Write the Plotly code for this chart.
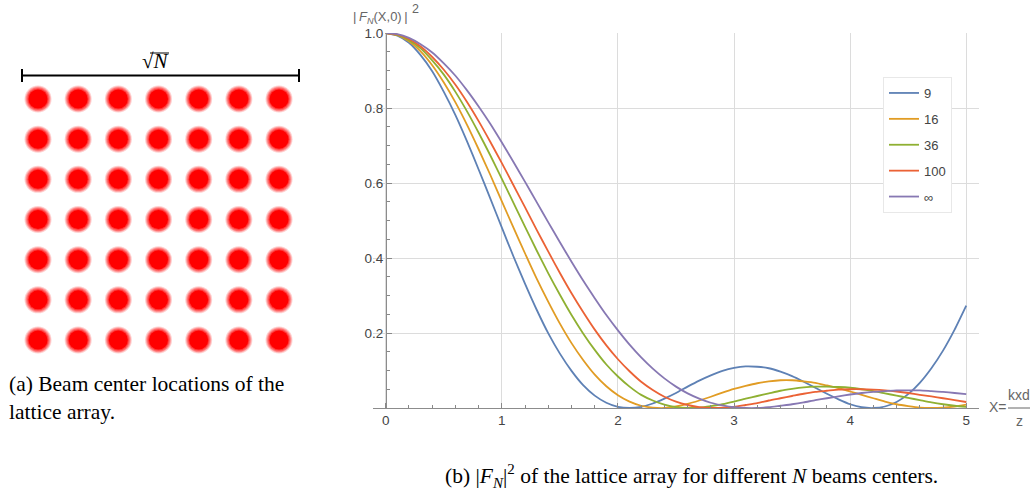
import plotly.graph_objects as go

# ---------------- data ----------------
x_vals = [round(i * 0.1, 1) for i in range(51)]

n9 = [1.000, 0.993, 0.974, 0.941, 0.898, 0.843, 0.781, 0.711, 0.636, 0.559,
      0.481, 0.404, 0.331, 0.262, 0.199, 0.145, 0.099, 0.061, 0.033, 0.014,
      0.003, 0.000, 0.003, 0.012, 0.025, 0.040, 0.057, 0.073, 0.087, 0.099,
      0.107, 0.111, 0.110, 0.106, 0.097, 0.085, 0.070, 0.054, 0.038, 0.023,
      0.010, 0.002, 0.000, 0.004, 0.016, 0.037, 0.067, 0.106, 0.153, 0.209,
      0.273]
n16 = [1.000, 0.994, 0.978, 0.951, 0.914, 0.868, 0.815, 0.755, 0.690, 0.622,
       0.551, 0.481, 0.412, 0.345, 0.283, 0.225, 0.173, 0.128, 0.089, 0.058,
       0.034, 0.017, 0.006, 0.001, 0.000, 0.004, 0.011, 0.020, 0.030, 0.041,
       0.051, 0.059, 0.066, 0.071, 0.074, 0.074, 0.071, 0.067, 0.060, 0.053,
       0.044, 0.035, 0.026, 0.017, 0.010, 0.005, 0.001, 0.000, 0.001, 0.004,
       0.009]
n36 = [1.000, 0.995, 0.981, 0.959, 0.927, 0.889, 0.843, 0.791, 0.734, 0.674,
       0.611, 0.547, 0.483, 0.420, 0.359, 0.302, 0.248, 0.199, 0.155, 0.116,
       0.084, 0.057, 0.035, 0.020, 0.009, 0.002, 0.000, 0.001, 0.005, 0.010,
       0.017, 0.025, 0.032, 0.039, 0.046, 0.051, 0.055, 0.057, 0.057, 0.056,
       0.054, 0.050, 0.045, 0.039, 0.033, 0.027, 0.021, 0.015, 0.010, 0.006,
       0.003]
n100 = [1.000, 0.996, 0.984, 0.964, 0.936, 0.902, 0.862, 0.816, 0.765, 0.710,
        0.653, 0.594, 0.535, 0.475, 0.417, 0.360, 0.306, 0.256, 0.209, 0.167,
        0.130, 0.098, 0.070, 0.048, 0.030, 0.017, 0.008, 0.002, 0.000, 0.001,
        0.003, 0.008, 0.013, 0.020, 0.026, 0.032, 0.038, 0.043, 0.046, 0.049,
        0.050, 0.050, 0.049, 0.047, 0.044, 0.040, 0.035, 0.031, 0.026, 0.021,
        0.016]
ninf = [1.000, 0.997, 0.987, 0.970, 0.948, 0.919, 0.886, 0.847, 0.804, 0.758,
        0.708, 0.656, 0.603, 0.549, 0.495, 0.442, 0.390, 0.340, 0.293, 0.248,
        0.207, 0.169, 0.135, 0.105, 0.079, 0.057, 0.039, 0.025, 0.014, 0.007,
        0.002, 0.000, 0.000, 0.002, 0.006, 0.010, 0.015, 0.021, 0.026, 0.031,
        0.036, 0.040, 0.043, 0.045, 0.047, 0.047, 0.047, 0.045, 0.043, 0.040,
        0.037]

series_names = ["9", "16", "36", "100", "\u221e"]
series_values = [n9, n16, n36, n100, ninf]
series_colors = ["#5E81B5", "#E19C24", "#8FB032", "#EB6235", "#8778B3"]

x_ticks = [0, 1, 2, 3, 4, 5]
x_ticklabels = ["0", "1", "2", "3", "4", "5"]
y_ticks = [0.2, 0.4, 0.6, 0.8, 1.0]
y_ticklabels = ["0.2", "0.4", "0.6", "0.8", "1.0"]

# lattice (7 x 7 beam centres)
lattice_idx = list(range(7))

# ---------------- figure ----------------
W, H = 1034, 495
fig = go.Figure()

SANS = "Liberation Sans, Arial, sans-serif"
SERIF = "Liberation Serif, Times New Roman, serif"

for name, vals, col in zip(series_names, series_values, series_colors):
    fig.add_trace(go.Scatter(
        x=x_vals, y=vals, mode="lines", name=name,
        legendgroup=name,
        line=dict(color=col, width=1.8, shape="spline", smoothing=0.6),
        cliponaxis=False, xaxis="x", yaxis="y"))

# lattice dots (blurred): stacked translucent rings + solid core
gx = [i for j in lattice_idx for i in lattice_idx]
gy = [j for j in lattice_idx for i in lattice_idx]
for size, op in [(27, 0.18), (25, 0.25), (23, 0.32), (21, 0.45)]:
    fig.add_trace(go.Scatter(
        x=gx, y=gy, mode="markers", showlegend=False, hoverinfo="skip",
        marker=dict(size=size, color="#FF0000", opacity=op, line=dict(width=0)),
        xaxis="x2", yaxis="y2"))
fig.add_trace(go.Scatter(
    x=gx, y=gy, mode="markers", showlegend=False, hoverinfo="skip",
    marker=dict(size=19, color="#FF0000", line=dict(width=0)),
    xaxis="x2", yaxis="y2"))

# pixel helpers (paper coords)
def px(xp):
    return xp / W
def py(yp):
    return 1 - yp / H

sp = 40.17
fig.update_layout(
    width=W, height=H,
    margin=dict(l=0, r=0, t=0, b=0, autoexpand=False),
    paper_bgcolor="white", plot_bgcolor="white",
    showlegend=True,
    xaxis=dict(
        domain=[px(373), px(979)], range=[-0.11, 5.11],
        anchor="y", automargin=False,
        tickmode="array", tickvals=x_ticks, ticktext=x_ticklabels,
        ticks="inside", ticklen=5, tickwidth=1, tickcolor="#888888",
        showline=True, linecolor="#8c8c8c", linewidth=1,
        showgrid=True, gridcolor="#dcdcdc", gridwidth=1,
        zeroline=False,
        minor=dict(ticks="inside", dtick=0.2, tick0=0, ticklen=3,
                   tickcolor="#888888", showgrid=False),
        tickfont=dict(family=SANS, size=13.5, color="#444444"),
        fixedrange=True,
    ),
    yaxis=dict(
        domain=[py(408), py(33)], range=[0, 1.0],
        anchor="free", position=px(386), automargin=False,
        tickmode="array", tickvals=y_ticks, ticktext=y_ticklabels,
        ticks="inside", ticklen=5, tickwidth=1, tickcolor="#888888",
        showline=True, linecolor="#8c8c8c", linewidth=1,
        showgrid=True, gridcolor="#dcdcdc", gridwidth=1,
        zeroline=False,
        minor=dict(ticks="inside", dtick=0.05, tick0=0, ticklen=3,
                   tickcolor="#888888", showgrid=False),
        tickfont=dict(family=SANS, size=13.5, color="#444444"),
        fixedrange=True,
    ),
    xaxis2=dict(
        domain=[0, px(320)], range=[-38 / sp, (320 - 38) / sp],
        anchor="y2", visible=False, fixedrange=True, automargin=False,
    ),
    yaxis2=dict(
        domain=[0, 1], range=[(H - 99) / sp, -99 / sp],
        anchor="x2", visible=False, fixedrange=True, automargin=False,
    ),
    legend=dict(
        x=px(883), y=py(77), xanchor="left", yanchor="top",
        bgcolor="white", bordercolor="#e8e8e8", borderwidth=1,
        font=dict(family=SANS, size=13, color="#444444"),
        traceorder="grouped", tracegroupgap=6,
        itemwidth=30,
    ),
)

shapes = []
# scale bar over the lattice
shapes.append(dict(type="line", xref="paper", yref="paper",
                   x0=px(22), x1=px(299), y0=py(75.5), y1=py(75.5),
                   line=dict(color="black", width=2)))
for xe in (22, 299):
    shapes.append(dict(type="line", xref="paper", yref="paper",
                       x0=px(xe), x1=px(xe), y0=py(69), y1=py(82),
                       line=dict(color="black", width=2)))
# vinculum of the square root
shapes.append(dict(type="line", xref="paper", yref="paper",
                   x0=px(150), x1=px(169), y0=py(53), y1=py(53),
                   line=dict(color="black", width=1)))
# fraction bar of x-axis label
shapes.append(dict(type="line", xref="paper", yref="paper",
                   x0=px(1008), x1=px(1030), y0=py(408), y1=py(408),
                   line=dict(color="#666666", width=1)))
fig.update_layout(shapes=shapes)

annotations = [
    dict(text="\u221a<i>N</i>", x=px(155), y=py(61), xref="paper", yref="paper",
         showarrow=False, font=dict(family=SERIF, size=21, color="black"),
         xanchor="center", yanchor="middle"),
    dict(text="(a) Beam center locations of the<br>lattice array.",
         x=px(7), y=py(370), xref="paper", yref="paper", showarrow=False,
         align="left", xanchor="left", yanchor="top",
         font=dict(family=SERIF, size=21.5, color="black")),
    dict(text="(b) |<i>F<sub>N</sub></i>|<sup>2</sup> of the lattice array for different <i>N</i> beams centers.",
         x=px(691), y=py(476), xref="paper", yref="paper", showarrow=False,
         xanchor="center", yanchor="middle",
         font=dict(family=SERIF, size=21.5, color="black")),
    dict(text="|\u2009<i>F<sub>N</sub></i>(X,0)\u2009|",
         x=px(351), y=py(17), xref="paper", yref="paper", showarrow=False,
         xanchor="left", yanchor="middle",
         font=dict(family=SANS, size=13, color="#666666")),
    dict(text="2",
         x=px(410), y=py(9), xref="paper", yref="paper", showarrow=False,
         xanchor="left", yanchor="middle",
         font=dict(family=SANS, size=12.5, color="#666666")),
    dict(text="X=", x=px(998), y=py(407), xref="paper", yref="paper",
         showarrow=False, xanchor="center", yanchor="middle",
         font=dict(family=SANS, size=14, color="#666666")),
    dict(text="kxd", x=px(1019), y=py(395), xref="paper", yref="paper",
         showarrow=False, xanchor="center", yanchor="middle",
         font=dict(family=SANS, size=14, color="#666666")),
    dict(text="z", x=px(1019), y=py(421), xref="paper", yref="paper",
         showarrow=False, xanchor="center", yanchor="middle",
         font=dict(family=SANS, size=14, color="#666666")),
]
fig.update_layout(annotations=annotations)

fig.write_html("out.html")
